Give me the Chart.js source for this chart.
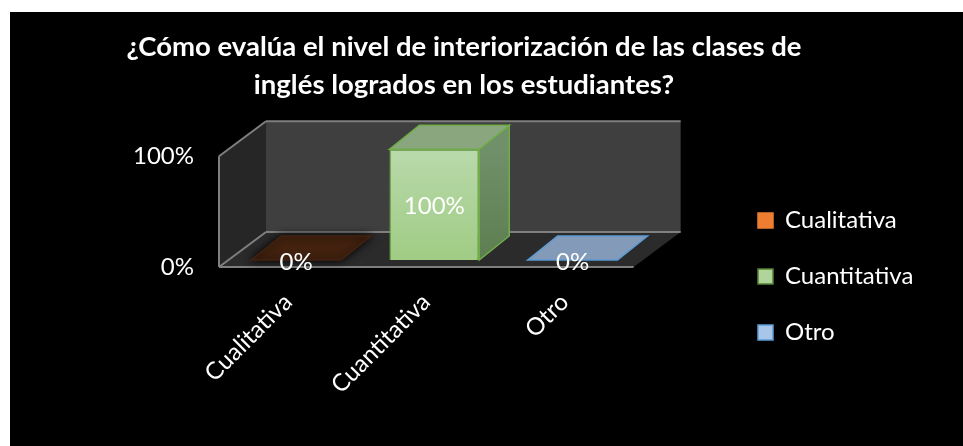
<!DOCTYPE html>
<html>
<head>
<meta charset="utf-8">
<script src="https://cdn.jsdelivr.net/npm/chart.js@4"></script>
<style>
    html, body { margin: 0; background: #fff; }
    #box { position: absolute; left: 10px; top: 12px; width: 953px; height: 434px; background: #000; }
</style>
</head>
<body>
<div id="box"><canvas id="js--chart-1" width="953" height="434"></canvas></div>
<script>
const categories = ["Cualitativa", "Cuantitativa", "Otro"];
const values = [0, 100, 0];
const yTicks = [0, 100];
const titleLines = ["¿Cómo evalúa el nivel de interiorización de las clases de", "inglés logrados en los estudiantes?"];

const legendColors = ['#ed7d31', '#b0d49c', '#a9c6e8'];
const legendBorders = ['#ed7d31', '#548235', '#5b9bd5'];
const frontTop = ['#43220f', '#b9d9ab', '#839ab8'];
const frontBottom = ['#43220f', '#a0cc84', '#839ab8'];
const topColors = ['#43220f', '#8aa67e', '#839ab8'];
const borderColors = ['#43220f', '#70ad47', '#5b9bd5'];

const font = "Lato, Carlito, sans-serif";
const textSize = 24;

// how far the floor and the bars go back, in pixels
const depth = { x: 47, y: -35 };
const barDepth = { x: 30, y: -24 };
const barShift = { x: 8, y: -7 };

function poly(ctx, pts, fill, stroke) {
    ctx.beginPath();
    pts.forEach((p, i) => i ? ctx.lineTo(p[0], p[1]) : ctx.moveTo(p[0], p[1]));
    ctx.closePath();
    if (fill) { ctx.fillStyle = fill; ctx.fill(); }
    if (stroke) { ctx.strokeStyle = stroke; ctx.lineWidth = 1.5; ctx.stroke(); }
}

function line(ctx, x1, y1, x2, y2) {
    ctx.beginPath();
    ctx.moveTo(x1, y1);
    ctx.lineTo(x2, y2);
    ctx.strokeStyle = '#7f7f7f';
    ctx.lineWidth = 2;
    ctx.stroke();
}

const box3d = {
    id: 'box3d',
    afterLayout(chart) {
        // the layout squeezes the legend, put it back where it belongs
        const lg = chart.legend;
        lg.left = 716;
        lg.right = 953;
        lg.width = lg.right - lg.left;
        lg.top += 39;
        lg.bottom += 39;
    },
    beforeDatasetsDraw(chart) {
        const ctx = chart.ctx;
        const a = chart.chartArea;
        const dx = depth.x, dy = depth.y;

        // walls and floor
        poly(ctx, [[a.left + dx, a.top + dy], [a.right + dx, a.top + dy], [a.right + dx, a.bottom + dy], [a.left + dx, a.bottom + dy]], '#3f3f3f');
        poly(ctx, [[a.left, a.top], [a.left + dx, a.top + dy], [a.left + dx, a.bottom + dy], [a.left, a.bottom]], '#262626');
        poly(ctx, [[a.left, a.bottom], [a.left + dx, a.bottom + dy], [a.right + dx, a.bottom + dy], [a.right, a.bottom]], '#2b2b2b');

        line(ctx, a.left, a.top, a.left + dx, a.top + dy);
        line(ctx, a.left + dx, a.top + dy, a.right + dx, a.top + dy);
        line(ctx, a.left, a.top, a.left, a.bottom);
        line(ctx, a.left, a.bottom, a.left + dx, a.bottom + dy);
        line(ctx, a.left + dx, a.bottom + dy, a.right + dx, a.bottom + dy);
        line(ctx, a.left, a.bottom, a.right, a.bottom);

        // side and top of each bar, the front is the real bar
        ctx.save();
        ctx.translate(barShift.x, barShift.y);
        chart.getDatasetMeta(0).data.forEach((bar, i) => {
            const l = bar.x - bar.width / 2, r = bar.x + bar.width / 2;
            const t = bar.y, b = bar.base;
            const bx = barDepth.x, by = barDepth.y;
            if (b - t > 1) {
                const g = ctx.createLinearGradient(0, t, 0, b);
                g.addColorStop(0, '#70906a');
                g.addColorStop(1, '#5d7e50');
                poly(ctx, [[r, t], [r + bx, t + by], [r + bx, b + by], [r, b]], g, borderColors[i]);
            }
            if (i === 0) {
                ctx.shadowColor = '#000';
                ctx.shadowBlur = 8;
            }
            poly(ctx, [[l, t], [l + bx, t + by], [r + bx, t + by], [r, t]], topColors[i], borderColors[i]);
            ctx.shadowBlur = 0;
        });
        ctx.restore();
        ctx.save();
        ctx.translate(barShift.x, barShift.y);
    },
    afterDatasetsDraw(chart) {
        const ctx = chart.ctx;
        ctx.restore();
        // value labels
        ctx.save();
        ctx.font = textSize + 'px ' + font;
        ctx.fillStyle = '#fff';
        ctx.textAlign = 'center';
        ctx.textBaseline = 'middle';
        chart.getDatasetMeta(0).data.forEach((bar, i) => {
            ctx.fillText(values[i] + '%', bar.x + barShift.x, (bar.y + bar.base) / 2 + barShift.y + 2);
        });
        ctx.restore();
    }
};

const config = {
    type: 'bar',
    data: {
        labels: categories,
        datasets: [{
            data: values,
            clip: false,
            barPercentage: 0.65,
            categoryPercentage: 1,
            borderWidth: 1.5,
            borderColor: borderColors,
            backgroundColor(c) {
                const area = c.chart.chartArea;
                if (!area) return frontTop[c.dataIndex];
                const g = c.chart.ctx.createLinearGradient(0, area.top, 0, area.bottom);
                g.addColorStop(0, frontTop[c.dataIndex]);
                g.addColorStop(1, frontBottom[c.dataIndex]);
                return g;
            }
        }]
    },
    options: {
        responsive: false,
        animation: false,
        layout: { padding: { left: 0, right: 45, top: 17, bottom: 0 } },
        plugins: {
            tooltip: { enabled: false },
            title: {
                display: true,
                text: titleLines,
                color: '#fff',
                font: { family: font, size: 27.5, weight: 'bold', lineHeight: 1.35 },
                padding: { top: 0, bottom: 53 }
            },
            legend: {
                position: 'right',
                labels: {
                    color: '#fff',
                    font: { family: font, size: textSize },
                    boxWidth: 15,
                    boxHeight: 15,
                    padding: 32,
                    generateLabels() {
                        return categories.map((name, i) => ({
                            text: name,
                            fillStyle: legendColors[i],
                            strokeStyle: legendBorders[i],
                            lineWidth: 1.5,
                            fontColor: '#fff',
                            index: i
                        }));
                    }
                }
            }
        },
        scales: {
            x: {
                grid: { display: false },
                border: { display: false },
                ticks: { color: '#fff', font: { family: font, size: textSize }, minRotation: 45, maxRotation: 45, padding: 13 },
                afterFit(s) { s.height = 179; }
            },
            y: {
                min: 0,
                max: 100,
                afterBuildTicks(s) { s.ticks = yTicks.map(v => ({ value: v })); },
                grid: { display: false },
                border: { display: false },
                ticks: {
                    color: '#fff',
                    font: { family: font, size: textSize },
                    padding: 17,
                    callback: v => v + '%'
                },
                afterFit(s) { s.width = 209; }
            },
            // only keeps the gap between the plot and the legend
            gap: {
                position: 'right',
                grid: { display: false },
                border: { display: false },
                ticks: { display: false },
                afterFit(s) { s.width = 133; }
            }
        }
    },
    plugins: [box3d]
};

new Chart(document.getElementById("js--chart-1"), config);
</script>
</body>
</html>
